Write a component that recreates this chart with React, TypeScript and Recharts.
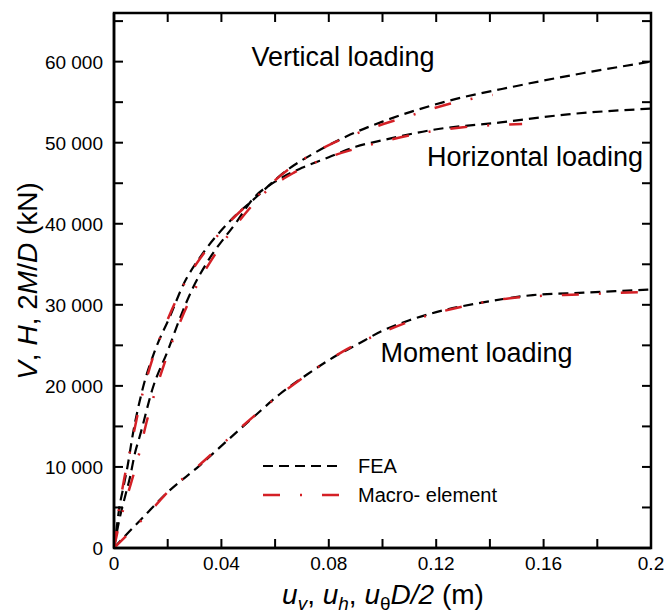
import React from 'react';
import { LineChart, Line, XAxis, YAxis, ReferenceDot, ReferenceArea, Legend } from 'recharts';

// [u, load] pairs
const vertFEA = [
  [0, 0], [0.001, 2500], [0.002, 5000], [0.0035, 7500], [0.005, 10000], [0.007, 14000],
  [0.0108, 19800], [0.0153, 24400], [0.0209, 28600], [0.0257, 32400], [0.033, 36300],
  [0.0425, 40100], [0.053, 43300], [0.0644, 46600], [0.075, 48800], [0.088, 51000],
  [0.1, 52600], [0.125, 55200], [0.15, 57000], [0.175, 58600], [0.2, 60000],
];
const horizFEA = [
  [0, 0], [0.002, 3500], [0.004, 6200], [0.006, 8800], [0.0078, 11700], [0.0097, 13900],
  [0.0145, 19800], [0.0201, 24400], [0.0246, 28400], [0.0294, 32100], [0.0346, 35200],
  [0.0458, 40300], [0.0518, 43100], [0.06, 45200], [0.07, 46900], [0.08, 48200],
  [0.09, 49500], [0.1, 50300], [0.119, 51600], [0.144, 52500], [0.169, 53500], [0.2, 54200],
];
const momentFEA = [
  [0, 0], [0.005, 1800], [0.0097, 3400], [0.0197, 6800], [0.032, 10200], [0.042, 13200],
  [0.0518, 16100], [0.0618, 19000], [0.0719, 21400], [0.0816, 23500], [0.09, 25000],
  [0.1, 26800], [0.11, 28100], [0.12, 29100], [0.1374, 30300], [0.156, 31200],
  [0.175, 31500], [0.2, 31900],
];
const vertMacro = [
  [0, 0], [0.0015, 4000], [0.0035, 8000], [0.006, 12000], [0.0095, 17500], [0.0145, 23500],
  [0.02, 28200], [0.0265, 32800], [0.034, 36600], [0.043, 40200], [0.053, 43300],
  [0.065, 46700], [0.08, 49700], [0.095, 51700], [0.11, 53300], [0.125, 54800], [0.141, 55900],
];
const horizMacro = [
  [0, 0], [0.002, 3000], [0.005, 6500], [0.0085, 10500], [0.0125, 16000], [0.0185, 22500],
  [0.025, 28200], [0.0315, 32800], [0.038, 36400], [0.047, 40500], [0.056, 43800],
  [0.067, 46300], [0.08, 48200], [0.095, 49700], [0.11, 50900], [0.13, 51900], [0.152, 52300],
];
const momentMacro = [
  [0, 0], [0.0145, 4900], [0.02, 6900], [0.032, 10300], [0.045, 14200], [0.058, 17900],
  [0.072, 21400], [0.085, 24200], [0.1, 26600], [0.115, 28500], [0.13, 29800],
  [0.15, 30900], [0.175, 31300], [0.2, 31600],
];

const xTicks = [0, 0.02, 0.04, 0.06, 0.08, 0.1, 0.12, 0.14, 0.16, 0.18, 0.2];
const yTicks = [0, 5000, 10000, 15000, 20000, 25000, 30000, 35000, 40000, 45000, 50000, 55000, 60000, 65000];

const annotations = [
  { text: 'Vertical loading', x: 0.0853, y: 60600 },
  { text: 'Horizontal loading', x: 0.1568, y: 48300 },
  { text: 'Moment loading', x: 0.135, y: 24100 },
];

const FONT = 'Arial, "Liberation Sans", sans-serif';
const RED = '#d42026';
const TICK = 9;
const FEA_DASH = '10 6';
const MACRO_DASH = '17 20 2 20';
const X_MAX = 0.2;
const Y_MAX = 66000;

const W = 666;
const H = 616;
const MARGIN = { top: 13, right: 15, bottom: 8, left: 24 };
const Y_AXIS_W = 90;
const X_AXIS_H = 60;
const PLOT_W = W - MARGIN.left - MARGIN.right - Y_AXIS_W;
const PLOT_H = H - MARGIN.top - MARGIN.bottom - X_AXIS_H;

const toPts = (a: number[][]) => a.map(([x, y]) => ({ x, y }));

const fmtX = (v: number) => String(Math.round(v * 100) / 100);
const fmtY = (v: number) => (v === 0 ? '0' : `${v / 1000} 000`);

// ticks drawn as filled rects: inward on bottom, mirrored on the top edge
const BottomTick = (p: any) => {
  const x = Number(p.x);
  const y = Number(p.y);
  const top = y - PLOT_H;
  return (
    <g>
      <rect x={x - 1} y={y - TICK} width={2} height={TICK} fill="#000" />
      <rect x={x - 1} y={top} width={2} height={TICK} fill="#000" />
      {p.index % 2 === 0 && (
        <text x={x} y={y + 22} textAnchor="middle" fontSize={19} fill="#000">
          {fmtX(p.payload.value)}
        </text>
      )}
    </g>
  );
};

// inward on the left, mirrored on the right edge
const LeftTick = (p: any) => {
  const x = Number(p.x);
  const y = Number(p.y);
  const right = x + PLOT_W;
  return (
    <g>
      <rect x={x} y={y - 1} width={TICK} height={2} fill="#000" />
      <rect x={right - TICK} y={y - 1} width={TICK} height={2} fill="#000" />
      {p.index % 2 === 0 && (
        <text x={x - 11} y={y + 7} textAnchor="end" fontSize={19} fill="#000">
          {fmtY(p.payload.value)}
        </text>
      )}
    </g>
  );
};

const XTitle = () => (
  <text x={383} y={604} textAnchor="middle" fontSize={28} fill="#000">
    <tspan fontStyle="italic">u</tspan>
    <tspan fontStyle="italic" fontSize={19} dy={6}>v</tspan>
    <tspan dy={-6}>, </tspan>
    <tspan fontStyle="italic">u</tspan>
    <tspan fontStyle="italic" fontSize={19} dy={6}>h</tspan>
    <tspan dy={-6}>, </tspan>
    <tspan fontStyle="italic">u</tspan>
    <tspan fontSize={19} dy={6}>θ</tspan>
    <tspan fontStyle="italic" dy={-6}>D/2</tspan>
    <tspan> (m)</tspan>
  </text>
);

const YTitle = () => (
  <text x={37} y={281} textAnchor="middle" fontSize={28} fill="#000" transform="rotate(-90 37 281)">
    <tspan fontStyle="italic">V</tspan>
    <tspan>, </tspan>
    <tspan fontStyle="italic">H</tspan>
    <tspan>, 2</tspan>
    <tspan fontStyle="italic">M</tspan>
    <tspan>/</tspan>
    <tspan fontStyle="italic">D</tspan>
    <tspan> (kN)</tspan>
  </text>
);

const LegendBox = () => (
  <svg width={280} height={60} style={{ fontFamily: FONT, overflow: 'visible' }}>
    <line x1={0} x2={77} y1={14} y2={14} stroke="#000" strokeWidth={2.2} strokeDasharray={FEA_DASH} />
    <text x={95} y={21} fontSize={20} fill="#000">FEA</text>
    <line x1={0} x2={77} y1={43} y2={43} stroke={RED} strokeWidth={2.5} strokeDasharray={MACRO_DASH} />
    <text x={95} y={50} fontSize={20} fill="#000">Macro- element</text>
  </svg>
);

const feaProps = {
  dataKey: 'y',
  type: 'monotone' as const,
  stroke: '#000',
  strokeWidth: 2.2,
  strokeDasharray: FEA_DASH,
  dot: false,
  isAnimationActive: false,
};

const macroProps = {
  dataKey: 'y',
  type: 'monotone' as const,
  stroke: RED,
  strokeWidth: 2.5,
  strokeDasharray: MACRO_DASH,
  dot: false,
  isAnimationActive: false,
};

export default function App() {
  return (
    <div style={{ fontFamily: FONT, position: 'absolute', left: 0, top: 0 }}>
      <LineChart width={W} height={H} margin={MARGIN}>
        <XAxis
          dataKey="x"
          type="number"
          domain={[0, X_MAX]}
          ticks={xTicks}
          interval={0}
          height={X_AXIS_H}
          tickSize={0}
          tickMargin={0}
          tickLine={false}
          tick={<BottomTick />}
          axisLine={{ stroke: '#000', strokeWidth: 2.5 }}
          allowDataOverflow
          label={<XTitle />}
        />
        <YAxis
          type="number"
          domain={[0, Y_MAX]}
          ticks={yTicks}
          interval={0}
          width={Y_AXIS_W}
          tickSize={0}
          tickMargin={0}
          tickLine={false}
          tick={<LeftTick />}
          axisLine={{ stroke: '#000', strokeWidth: 2.5 }}
          allowDataOverflow
          label={<YTitle />}
        />
        {/* plot frame */}
        <ReferenceArea
          x1={0}
          x2={X_MAX}
          y1={0}
          y2={Y_MAX}
          fill="none"
          fillOpacity={0}
          stroke="#000"
          strokeWidth={2.5}
          strokeOpacity={1}
          ifOverflow="visible"
        />
        <Legend
          layout="vertical"
          align="center"
          verticalAlign="middle"
          content={<LegendBox />}
          wrapperStyle={{ left: 263, top: 452, width: 280 }}
        />
        <Line data={toPts(vertFEA)} {...feaProps} />
        <Line data={toPts(horizFEA)} {...feaProps} />
        <Line data={toPts(momentFEA)} {...feaProps} />
        <Line data={toPts(vertMacro)} {...macroProps} />
        <Line data={toPts(horizMacro)} {...macroProps} />
        <Line data={toPts(momentMacro)} {...macroProps} />
        {annotations.map((a) => (
          <ReferenceDot
            key={a.text}
            x={a.x}
            y={a.y}
            r={0}
            fill="none"
            stroke="none"
            label={{ value: a.text, position: 'center', fontSize: 27, fill: '#000' }}
          />
        ))}
      </LineChart>
    </div>
  );
}
